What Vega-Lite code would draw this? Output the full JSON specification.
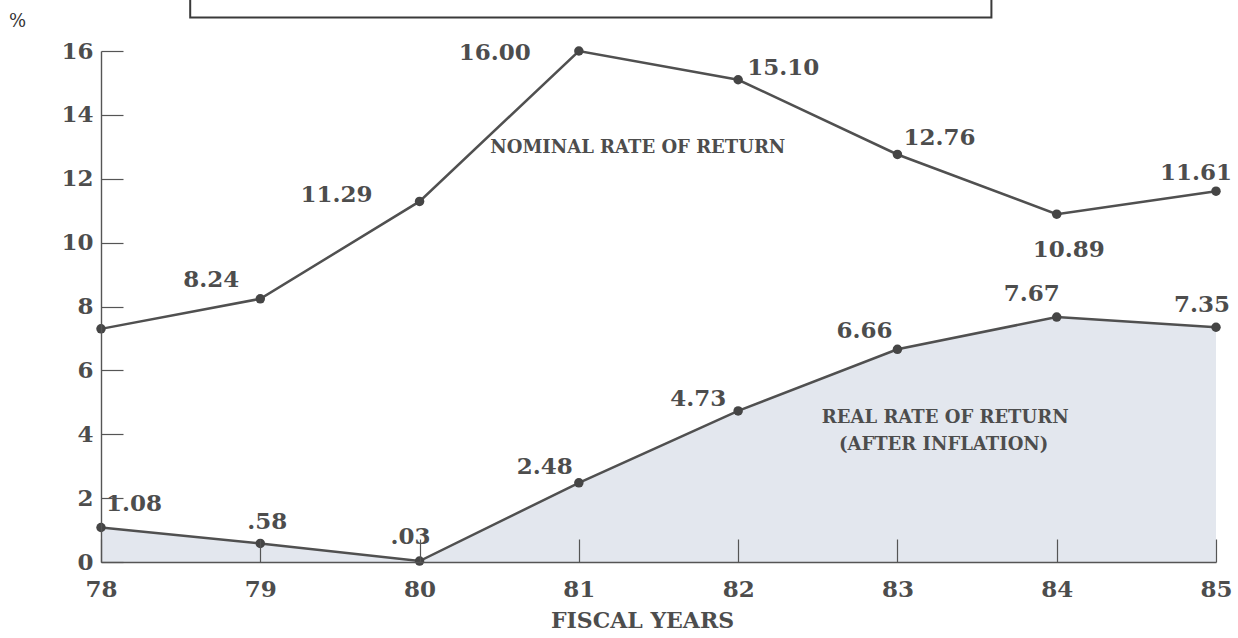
{
  "$schema": "https://vega.github.io/schema/vega-lite/v6.json",
  "width": 1115,
  "height": 511,
  "autosize": "none",
  "padding": {"left": 101, "top": 51, "right": 22, "bottom": 76},
  "background": "white",
  "config": {
    "view": {"stroke": null},
    "font": "DejaVu Serif",
    "text": {"font": "DejaVu Serif", "fontSize": 23, "fontWeight": "bold", "color": "#4d4d4d"}
  },
  "data": {
    "values": [
      {"year": 78, "series": "Nominal", "rate": 7.3},
      {"year": 79, "series": "Nominal", "rate": 8.24},
      {"year": 80, "series": "Nominal", "rate": 11.29},
      {"year": 81, "series": "Nominal", "rate": 16.0},
      {"year": 82, "series": "Nominal", "rate": 15.1},
      {"year": 83, "series": "Nominal", "rate": 12.76},
      {"year": 84, "series": "Nominal", "rate": 10.89},
      {"year": 85, "series": "Nominal", "rate": 11.61},
      {"year": 78, "series": "Real", "rate": 1.08},
      {"year": 79, "series": "Real", "rate": 0.58},
      {"year": 80, "series": "Real", "rate": 0.03},
      {"year": 81, "series": "Real", "rate": 2.48},
      {"year": 82, "series": "Real", "rate": 4.73},
      {"year": 83, "series": "Real", "rate": 6.66},
      {"year": 84, "series": "Real", "rate": 7.67},
      {"year": 85, "series": "Real", "rate": 7.35}
    ]
  },
  "transform": [
    {"calculate": "datum.rate < 1 ? substring(format(datum.rate, '.2f'), 1) : format(datum.rate, '.2f')", "as": "lbl"}
  ],
  "encoding": {
    "x": {
      "field": "year",
      "type": "quantitative",
      "scale": {"domain": [78, 85], "nice": false, "zero": false},
      "axis": {
        "values": [78, 79, 80, 81, 82, 83, 84, 85],
        "format": "d",
        "grid": false,
        "zindex": 1,
        "tickSize": -23,
        "tickWidth": 1.2,
        "tickColor": "#555555",
        "domainColor": "#555555",
        "domainWidth": 1.6,
        "labelPadding": 39,
        "labelFlush": false,
        "labelFont": "DejaVu Serif",
        "labelFontWeight": "bold",
        "labelFontSize": 23,
        "labelColor": "#4d4d4d",
        "title": "FISCAL YEARS",
        "titleFont": "DejaVu Serif",
        "titleFontWeight": "bold",
        "titleFontSize": 22,
        "titleColor": "#4d4d4d",
        "titleX": 541,
        "titleY": 58,
        "titleAlign": "center",
        "titleBaseline": "middle"
      }
    },
    "y": {
      "field": "rate",
      "type": "quantitative",
      "scale": {"domain": [0, 16], "nice": false},
      "axis": {
        "values": [0, 2, 4, 6, 8, 10, 12, 14, 16],
        "grid": false,
        "zindex": 1,
        "tickSize": -22,
        "tickWidth": 1.2,
        "tickColor": "#555555",
        "domainColor": "#555555",
        "domainWidth": 1.4,
        "labelPadding": 30,
        "labelFont": "DejaVu Serif",
        "labelFontWeight": "bold",
        "labelFontSize": 23,
        "labelColor": "#4d4d4d",
        "title": "%",
        "titleAngle": 0,
        "titleFont": "DejaVu Serif",
        "titleFontWeight": "normal",
        "titleFontSize": 18,
        "titleColor": "#333333",
        "titleX": -84,
        "titleY": -30,
        "titleAlign": "center",
        "titleBaseline": "middle"
      }
    }
  },
  "layer": [
    {
      "transform": [{"filter": "datum.series == 'Real'"}],
      "mark": {"type": "area", "color": "#e3e7ee", "opacity": 1}
    },
    {
      "transform": [{"filter": "datum.series == 'Real' && datum.year == 78"}],
      "mark": {"type": "rect", "fill": "white", "stroke": "#3a3a3a", "strokeWidth": 2, "clip": false},
      "encoding": {
        "x": {"datum": 78.56, "type": "quantitative"},
        "x2": {"datum": 83.59},
        "y": {"datum": 17.05, "type": "quantitative"},
        "y2": {"datum": 19}
      }
    },
    {
      "mark": {"type": "line", "color": "#505050", "strokeWidth": 2.5},
      "encoding": {"detail": {"field": "series"}}
    },
    {
      "mark": {"type": "circle", "color": "#454545", "size": 90, "opacity": 1}
    },
    {"transform": [{"filter": "datum.series == 'Nominal' && datum.year == 79"}], "mark": {"type": "text", "dx": -49, "dy": -19}, "encoding": {"text": {"field": "lbl"}}},
    {"transform": [{"filter": "datum.series == 'Nominal' && datum.year == 80"}], "mark": {"type": "text", "dx": -83, "dy": -6}, "encoding": {"text": {"field": "lbl"}}},
    {"transform": [{"filter": "datum.series == 'Nominal' && datum.year == 81"}], "mark": {"type": "text", "dx": -84, "dy": 2}, "encoding": {"text": {"field": "lbl"}}},
    {"transform": [{"filter": "datum.series == 'Nominal' && datum.year == 82"}], "mark": {"type": "text", "dx": 45, "dy": -12}, "encoding": {"text": {"field": "lbl"}}},
    {"transform": [{"filter": "datum.series == 'Nominal' && datum.year == 83"}], "mark": {"type": "text", "dx": 42, "dy": -16}, "encoding": {"text": {"field": "lbl"}}},
    {"transform": [{"filter": "datum.series == 'Nominal' && datum.year == 84"}], "mark": {"type": "text", "dx": 12, "dy": 36}, "encoding": {"text": {"field": "lbl"}}},
    {"transform": [{"filter": "datum.series == 'Nominal' && datum.year == 85"}], "mark": {"type": "text", "dx": -20, "dy": -18}, "encoding": {"text": {"field": "lbl"}}},
    {"transform": [{"filter": "datum.series == 'Real' && datum.year == 78"}], "mark": {"type": "text", "dx": 33, "dy": -24}, "encoding": {"text": {"field": "lbl"}}},
    {"transform": [{"filter": "datum.series == 'Real' && datum.year == 79"}], "mark": {"type": "text", "dx": 7, "dy": -21}, "encoding": {"text": {"field": "lbl"}}},
    {"transform": [{"filter": "datum.series == 'Real' && datum.year == 80"}], "mark": {"type": "text", "dx": -9, "dy": -24}, "encoding": {"text": {"field": "lbl"}}},
    {"transform": [{"filter": "datum.series == 'Real' && datum.year == 81"}], "mark": {"type": "text", "dx": -34, "dy": -16}, "encoding": {"text": {"field": "lbl"}}},
    {"transform": [{"filter": "datum.series == 'Real' && datum.year == 82"}], "mark": {"type": "text", "dx": -40, "dy": -12}, "encoding": {"text": {"field": "lbl"}}},
    {"transform": [{"filter": "datum.series == 'Real' && datum.year == 83"}], "mark": {"type": "text", "dx": -33, "dy": -18}, "encoding": {"text": {"field": "lbl"}}},
    {"transform": [{"filter": "datum.series == 'Real' && datum.year == 84"}], "mark": {"type": "text", "dx": -25, "dy": -23}, "encoding": {"text": {"field": "lbl"}}},
    {"transform": [{"filter": "datum.series == 'Real' && datum.year == 85"}], "mark": {"type": "text", "dx": -14, "dy": -22}, "encoding": {"text": {"field": "lbl"}}},
    {
      "transform": [{"filter": "datum.series == 'Nominal' && datum.year == 78"}],
      "mark": {"type": "text", "fontSize": 18},
      "encoding": {
        "x": {"datum": 81.37, "type": "quantitative"},
        "y": {"datum": 12.96, "type": "quantitative"},
        "text": {"value": "NOMINAL RATE OF RETURN"}
      }
    },
    {
      "transform": [{"filter": "datum.series == 'Real' && datum.year == 78"}],
      "mark": {"type": "text", "fontSize": 18},
      "encoding": {
        "x": {"datum": 83.3, "type": "quantitative"},
        "y": {"datum": 4.51, "type": "quantitative"},
        "text": {"value": "REAL RATE OF RETURN"}
      }
    },
    {
      "transform": [{"filter": "datum.series == 'Real' && datum.year == 79"}],
      "mark": {"type": "text", "fontSize": 18},
      "encoding": {
        "x": {"datum": 83.29, "type": "quantitative"},
        "y": {"datum": 3.66, "type": "quantitative"},
        "text": {"value": "(AFTER INFLATION)"}
      }
    }
  ]
}
